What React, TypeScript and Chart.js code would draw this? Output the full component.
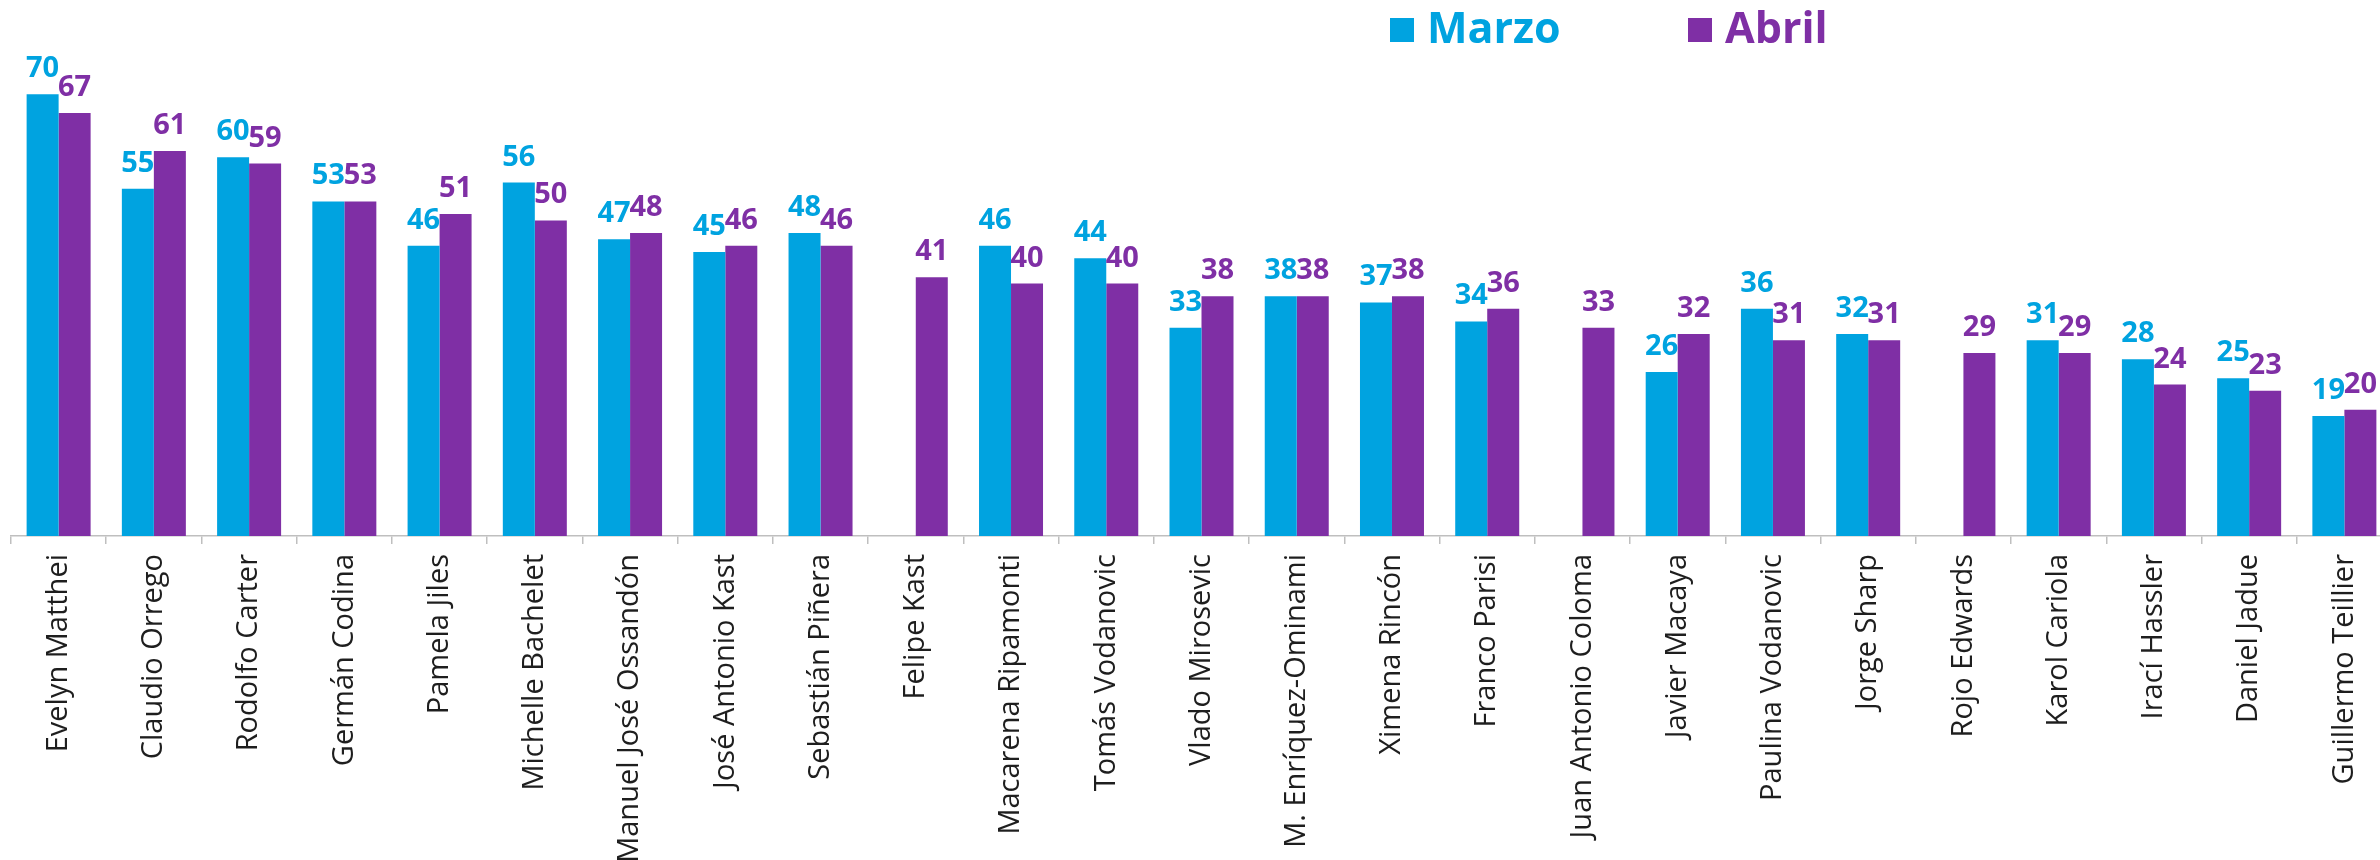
import React, { useEffect, useRef } from "react";
import { Chart, registerables } from "chart.js";
Chart.register(...registerables);

const categories = [
  "Evelyn Matthei", "Claudio Orrego", "Rodolfo Carter", "Germán Codina", "Pamela Jiles",
  "Michelle Bachelet", "Manuel José Ossandón", "José Antonio Kast", "Sebastián Piñera", "Felipe Kast",
  "Macarena Ripamonti", "Tomás Vodanovic", "Vlado Mirosevic", "M. Enríquez-Ominami", "Ximena Rincón",
  "Franco Parisi", "Juan Antonio Coloma", "Javier Macaya", "Paulina Vodanovic", "Jorge Sharp",
  "Rojo Edwards", "Karol Cariola", "Irací Hassler", "Daniel Jadue", "Guillermo Teillier",
];
const marzo: (number | null)[] = [70, 55, 60, 53, 46, 56, 47, 45, 48, null, 46, 44, 33, 38, 37, 34, null, 26, 36, 32, null, 31, 28, 25, 19];
const abril: (number | null)[] = [67, 61, 59, 53, 51, 50, 48, 46, 46, 41, 40, 40, 38, 38, 38, 36, 33, 32, 31, 31, 29, 29, 24, 23, 20];
const seriesNames = ["Marzo", "Abril"];
const seriesColors = ["#00A3E0", "#7F2FA5"];

export default function App() {
  const ref = useRef<HTMLCanvasElement>(null);
  useEffect(() => {
    if (!ref.current) return;
    const valueLabels = {
      id: "valueLabels",
      afterDatasetsDraw(chart: any) {
        const ctx = chart.ctx;
        ctx.save();
        ctx.font = 'bold 29px "Open Sans"';
        ctx.textAlign = "center";
        ctx.textBaseline = "alphabetic";
        chart.data.datasets.forEach((ds: any, di: number) => {
          const meta = chart.getDatasetMeta(di);
          ctx.fillStyle = seriesColors[di];
          meta.data.forEach((el: any, i: number) => {
            const v = ds.data[i];
            if (v === null || v === undefined) return;
            ctx.fillText(String(v), el.x, el.y - 17);
          });
        });
        ctx.restore();
      },
    };
    const customLegend = {
      id: "customLegend",
      afterDraw(chart: any) {
        const ctx = chart.ctx;
        ctx.save();
        ctx.font = 'bold 43px "Open Sans"';
        ctx.textBaseline = "alphabetic";
        ctx.textAlign = "left";
        const starts = [1390, 1688];
        seriesNames.forEach((name, i) => {
          ctx.fillStyle = seriesColors[i];
          ctx.fillRect(starts[i], 18, 24, 24);
          ctx.fillText(name, starts[i] + 37, 43);
        });
        ctx.restore();
      },
    };
    const chart = new Chart(ref.current, {
      type: "bar",
      data: {
        labels: categories,
        datasets: [
          { label: seriesNames[0], data: marzo, backgroundColor: seriesColors[0], categoryPercentage: 0.672, barPercentage: 1 },
          { label: seriesNames[1], data: abril, backgroundColor: seriesColors[1], categoryPercentage: 0.672, barPercentage: 1 },
        ],
      },
      options: {
        responsive: false,
        animation: false,
        layout: { padding: { top: 31, left: 11, right: 0, bottom: 0 } },
        plugins: { legend: { display: false }, tooltip: { enabled: false }, title: { display: false } },
        scales: {
          x: {
            afterFit(scale: any) { scale.height = 324; },
            grid: { drawOnChartArea: false, drawTicks: true, tickLength: 8, color: "#BFBFBF", lineWidth: 1.5, offset: true },
            border: { display: true, color: "#BFBFBF", width: 1.5 },
            ticks: {
              autoSkip: false, maxRotation: 90, minRotation: 90, padding: 10,
              color: "#1E1E1E", font: { family: '"Open Sans", sans-serif', size: 29 },
            },
          },
          y: { display: false, min: 0, max: 80 },
        },
      },
      plugins: [valueLabels, customLegend],
    });
    return () => chart.destroy();
  }, []);
  return (
    <div style={{ position: "fixed", left: 0, top: 0, width: 2380, height: 860, overflow: "hidden", background: "#fff" }}>
      <canvas ref={ref} width={2392} height={860} style={{ width: 2392, height: 860, display: "block" }} />
    </div>
  );
}
